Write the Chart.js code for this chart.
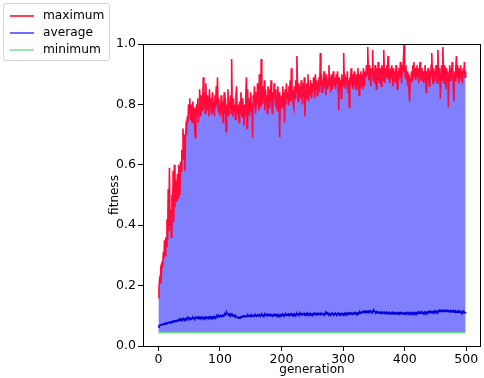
<!DOCTYPE html>
<html>
<head>
<meta charset="utf-8">
<script src="https://cdn.jsdelivr.net/npm/chart.js@4.4.0/dist/chart.umd.min.js"></script>
<style>
html,body{margin:0;padding:0;background:#fff;}
#wrap{position:relative;width:484px;height:378px;}
#legend{position:absolute;left:3px;top:3px;width:105px;height:56px;border:1px solid #d6d6d6;border-radius:3px;background:rgba(255,255,255,0.8);font-family:"DejaVu Sans";font-size:12.2px;color:#000;}
.row{position:absolute;left:0;height:17px;line-height:17px;}
.sw{position:absolute;left:6px;top:7.5px;width:24px;height:0;border-top:2px solid;}
.lab{position:absolute;left:39px;top:0;white-space:nowrap;}
</style>
</head>
<body>
<div id="wrap">
<canvas id="c" width="484" height="378"></canvas>
<div id="legend"></div>
</div>
<script>
const seriesNames = ["maximum", "average", "minimum"];
const xTicks = [0, 100, 200, 300, 400, 500];
const yTicks = [0.0, 0.2, 0.4, 0.6, 0.8, 1.0];

const maximum = [
0.16,0.19,0.22,0.21,0.25,0.24,0.28,0.26,0.31,0.29,
0.35,0.30,0.36,0.33,0.42,0.35,0.52,0.38,0.59,0.40,
0.45,0.36,0.50,0.43,0.58,0.41,0.60,0.46,0.55,0.48,
0.52,0.57,0.49,0.60,0.54,0.50,0.61,0.58,0.65,0.62,
0.72,0.66,0.70,0.58,0.68,0.73,0.72,0.76,0.74,0.80,
0.77,0.82,0.75,0.80,0.78,0.74,0.81,0.76,0.79,0.72,
0.69,0.75,0.80,0.77,0.82,0.74,0.78,0.85,0.80,0.76,
0.83,0.78,0.81,0.89,0.79,0.84,0.77,0.87,0.80,0.83,
0.78,0.81,0.76,0.85,0.79,0.82,0.77,0.80,0.84,0.78,
0.81,0.76,0.83,0.79,0.86,0.80,0.89,0.78,0.82,0.77,
0.80,0.76,0.83,0.78,0.81,0.74,0.79,0.84,0.77,0.82,
0.71,0.80,0.78,0.85,0.76,0.81,0.79,0.83,0.77,0.95,
0.79,0.76,0.82,0.78,0.80,0.75,0.83,0.86,0.77,0.80,
0.78,0.74,0.81,0.77,0.84,0.79,0.76,0.82,0.78,0.73,
0.80,0.77,0.83,0.89,0.72,0.85,0.79,0.82,0.76,0.81,
0.84,0.78,0.80,0.69,0.83,0.79,0.86,0.81,0.77,0.84,
0.80,0.87,0.82,0.78,0.90,0.83,0.79,0.95,0.84,0.80,
0.86,0.82,0.88,0.78,0.85,0.81,0.83,0.77,0.86,0.82,
0.79,0.85,0.81,0.88,0.83,0.77,0.84,0.80,0.87,0.82,
0.85,0.79,0.83,0.78,0.86,0.81,0.84,0.69,0.82,0.80,
0.83,0.79,0.86,0.81,0.84,0.74,0.85,0.80,0.87,0.82,
0.84,0.80,0.86,0.82,0.88,0.81,0.92,0.83,0.85,0.80,
0.79,0.86,0.82,0.88,0.84,0.96,0.85,0.81,0.87,0.83,
0.86,0.82,0.88,0.84,0.80,0.87,0.83,0.89,0.76,0.85,
0.82,0.87,0.84,0.90,0.81,0.86,0.83,0.88,0.85,0.82,
0.87,0.84,0.89,0.86,0.82,0.90,0.85,0.88,0.83,0.87,
0.85,0.89,0.84,0.97,0.86,0.90,0.84,0.88,0.85,0.91,
0.86,0.89,0.83,0.90,0.87,0.85,0.88,0.93,0.86,0.89,
0.84,0.90,0.87,0.85,0.91,0.88,0.86,0.89,0.85,0.90,
0.87,0.91,0.86,0.78,0.89,0.85,0.88,0.82,0.90,0.86,
0.88,0.97,0.86,0.90,0.85,0.89,0.87,0.91,0.84,0.88,
0.79,0.89,0.86,0.92,0.87,0.90,0.85,0.88,0.91,0.86,
0.89,0.85,0.90,0.87,0.92,0.88,0.83,0.90,0.86,0.91,
0.87,0.90,0.85,0.92,0.88,0.86,0.91,0.89,0.93,0.90,
0.99,0.91,0.88,0.93,0.89,0.86,0.92,0.90,0.98,0.88,
0.91,0.87,0.93,0.89,0.85,0.92,0.88,0.94,0.90,0.87,
0.92,0.89,0.86,0.93,0.90,0.88,0.98,0.91,0.87,0.92,
0.89,0.93,0.90,0.96,0.88,0.91,0.87,0.92,0.89,0.93,
0.90,0.86,0.92,0.88,0.91,0.87,0.93,0.89,0.85,0.91,
0.88,0.92,0.89,0.94,0.90,0.87,0.93,0.91,0.95,1.00,
0.92,0.89,0.93,0.88,0.91,0.86,0.90,0.84,0.81,0.89,
0.87,0.91,0.88,0.93,0.90,0.94,0.89,0.92,0.88,0.91,
0.93,0.89,0.92,0.87,0.91,0.94,0.90,0.88,0.92,0.89,
0.91,0.87,0.90,0.93,0.89,0.84,0.91,0.88,0.92,0.90,
0.86,0.91,0.89,0.93,0.97,0.90,0.87,0.92,0.88,0.91,
0.89,0.93,0.90,0.87,0.98,0.91,0.88,0.92,0.82,0.90,
0.93,0.88,0.99,0.91,0.87,0.93,0.89,0.85,0.92,0.88,
0.91,0.79,0.90,0.93,0.88,0.92,0.89,0.94,0.90,0.87,
0.81,0.91,0.88,0.92,0.96,0.89,0.93,0.90,0.87,0.92,
0.89,0.93,0.88,0.91,0.87,0.92,0.90,0.94,0.89,0.91
];

const average = [
.062,.066,.068,.069,.070,.070,.071,.072,.071,.073,
.074,.073,.075,.074,.076,.075,.077,.078,.077,.079,
.078,.080,.079,.081,.080,.082,.081,.083,.082,.084,
.083,.085,.084,.086,.085,.088,.086,.090,.087,.089,
.088,.091,.089,.087,.090,.092,.089,.091,.093,.090,
.092,.090,.093,.091,.089,.092,.094,.091,.093,.090,
.092,.095,.093,.091,.094,.092,.096,.093,.095,.092,
.094,.092,.095,.093,.091,.094,.096,.093,.095,.092,
.094,.096,.093,.095,.097,.094,.096,.093,.095,.097,
.095,.098,.096,.094,.097,.099,.096,.098,.100,.097,
.099,.101,.098,.100,.102,.099,.101,.104,.106,.103,
.108,.111,.107,.105,.103,.106,.102,.104,.101,.103,
.100,.102,.099,.101,.098,.097,.099,.096,.095,.094,
.093,.095,.094,.096,.095,.097,.096,.098,.097,.099,
.098,.100,.099,.097,.100,.102,.099,.101,.100,.098,
.101,.099,.102,.100,.098,.101,.103,.100,.102,.099,
.101,.103,.100,.102,.104,.101,.099,.102,.104,.101,
.103,.100,.102,.105,.102,.100,.103,.101,.104,.102,
.100,.103,.101,.104,.102,.099,.102,.104,.101,.103,
.105,.102,.100,.103,.101,.104,.102,.100,.103,.101,
.104,.102,.105,.103,.101,.104,.102,.106,.103,.101,
.104,.106,.103,.105,.102,.104,.107,.104,.102,.105,
.103,.106,.104,.102,.105,.107,.104,.106,.103,.105,
.108,.105,.103,.106,.104,.107,.105,.103,.106,.104,
.107,.105,.109,.106,.104,.107,.105,.108,.106,.104,
.106,.104,.107,.105,.108,.106,.103,.106,.104,.107,
.105,.108,.106,.104,.107,.105,.108,.106,.104,.107,
.105,.108,.111,.108,.106,.109,.107,.105,.108,.106,
.104,.107,.105,.108,.106,.104,.107,.105,.108,.106,
.104,.107,.109,.106,.104,.107,.105,.108,.106,.104,
.107,.105,.108,.106,.109,.107,.105,.108,.110,.107,
.105,.108,.106,.109,.107,.105,.108,.110,.107,.109,
.111,.108,.106,.109,.107,.110,.108,.112,.109,.111,
.113,.110,.112,.115,.112,.114,.116,.113,.115,.112,
.114,.116,.113,.115,.117,.114,.112,.115,.113,.116,
.118,.115,.113,.111,.114,.112,.110,.113,.111,.109,
.112,.110,.108,.111,.109,.112,.110,.108,.111,.109,
.107,.110,.108,.111,.109,.107,.110,.108,.106,.109,
.107,.110,.108,.106,.109,.107,.110,.108,.106,.109,
.107,.110,.108,.111,.109,.107,.110,.108,.106,.109,
.108,.110,.107,.109,.111,.108,.106,.109,.107,.110,
.108,.111,.109,.107,.110,.108,.111,.109,.107,.110,
.108,.111,.109,.112,.110,.108,.111,.109,.112,.110,
.111,.109,.112,.110,.113,.111,.109,.112,.110,.113,
.111,.114,.112,.110,.113,.111,.114,.112,.115,.113,
.116,.114,.112,.115,.113,.116,.114,.117,.115,.118,
.116,.114,.117,.115,.118,.116,.114,.117,.115,.118,
.116,.114,.117,.115,.113,.116,.114,.117,.115,.113,
.116,.114,.112,.115,.113,.111,.114,.112,.115,.113,
.111,.114,.112,.110,.113,.111,.114,.112,.110,.112
];

const minimum = [
.044,.044,.044,.044,.044,.044,.044,.044,.044,.044,.044,.044,.044,.044,.044,.044,.044,.044,.044,.044,.044,.044,.044,.044,.044,.044,.044,.044,.044,.044,.044,.044,.044,.044,.044,.044,.044,.044,.044,.044,.044,.044,.044,.044,.044,.044,.044,.044,.044,.044,
.044,.044,.044,.044,.044,.044,.044,.044,.044,.044,.044,.044,.044,.044,.044,.044,.044,.044,.044,.044,.044,.044,.044,.044,.044,.044,.044,.044,.044,.044,.044,.044,.044,.044,.044,.044,.044,.044,.044,.044,.044,.044,.044,.044,.044,.044,.044,.044,.044,.044,
.044,.044,.044,.044,.044,.044,.044,.044,.044,.044,.044,.044,.044,.044,.044,.044,.044,.044,.044,.044,.044,.044,.044,.044,.044,.044,.044,.044,.044,.044,.044,.044,.044,.044,.044,.044,.044,.044,.044,.044,.044,.044,.044,.044,.044,.044,.044,.044,.044,.044,
.044,.044,.044,.044,.044,.044,.044,.044,.044,.044,.044,.044,.044,.044,.044,.044,.044,.044,.044,.044,.044,.044,.044,.044,.044,.044,.044,.044,.044,.044,.044,.044,.044,.044,.044,.044,.044,.044,.044,.044,.044,.044,.044,.044,.044,.044,.044,.044,.044,.044,
.044,.044,.044,.044,.044,.044,.044,.044,.044,.044,.044,.044,.044,.044,.044,.044,.044,.044,.044,.044,.044,.044,.044,.044,.044,.044,.044,.044,.044,.044,.044,.044,.044,.044,.044,.044,.044,.044,.044,.044,.044,.044,.044,.044,.044,.044,.044,.044,.044,.044,
.044,.044,.044,.044,.044,.044,.044,.044,.044,.044,.044,.044,.044,.044,.044,.044,.044,.044,.044,.044,.044,.044,.044,.044,.044,.044,.044,.044,.044,.044,.044,.044,.044,.044,.044,.044,.044,.044,.044,.044,.044,.044,.044,.044,.044,.044,.044,.044,.044,.044,
.044,.044,.044,.044,.044,.044,.044,.044,.044,.044,.044,.044,.044,.044,.044,.044,.044,.044,.044,.044,.044,.044,.044,.044,.044,.044,.044,.044,.044,.044,.044,.044,.044,.044,.044,.044,.044,.044,.044,.044,.044,.044,.044,.044,.044,.044,.044,.044,.044,.044,
.044,.044,.044,.044,.044,.044,.044,.044,.044,.044,.044,.044,.044,.044,.044,.044,.044,.044,.044,.044,.044,.044,.044,.044,.044,.044,.044,.044,.044,.044,.044,.044,.044,.044,.044,.044,.044,.044,.044,.044,.044,.044,.044,.044,.044,.044,.044,.044,.044,.044,
.044,.044,.044,.044,.044,.044,.044,.044,.044,.044,.044,.044,.044,.044,.044,.044,.044,.044,.044,.044,.044,.044,.044,.044,.044,.044,.044,.044,.044,.044,.044,.044,.044,.044,.044,.044,.044,.044,.044,.044,.044,.044,.044,.044,.044,.044,.044,.044,.044,.044,
.044,.044,.044,.044,.044,.044,.044,.044,.044,.044,.044,.044,.044,.044,.044,.044,.044,.044,.044,.044,.044,.044,.044,.044,.044,.044,.044,.044,.044,.044,.044,.044,.044,.044,.044,.044,.044,.044,.044,.044,.044,.044,.044,.044,.044,.044,.044,.044,.044,.044
];

const lineColors = ["#ff0a3a", "#0000dd", "#70e090"];
const legendColors = ["#ff4262", "#6f6fff", "#9ae4b0"];
const fillColor = "#8080ff";
const FONT = "DejaVu Sans";

function toPoints(arr) { return arr.map((v, i) => ({ x: i, y: v })); }

// HTML legend (real text)
const legendEl = document.getElementById('legend');
seriesNames.forEach((name, i) => {
  const row = document.createElement('div');
  row.className = 'row';
  row.style.top = (3 + i * 17) + 'px';
  row.style.width = '100%';
  const sw = document.createElement('div');
  sw.className = 'sw';
  sw.style.borderTopColor = legendColors[i];
  const lab = document.createElement('div');
  lab.className = 'lab';
  lab.textContent = name;
  row.appendChild(sw); row.appendChild(lab);
  legendEl.appendChild(row);
});

const frame = {
  id: 'frame',
  afterDraw(chart) {
    const { ctx, chartArea: a } = chart;
    ctx.save();
    ctx.strokeStyle = '#000';
    ctx.lineWidth = 1;
    ctx.strokeRect(Math.round(a.left) + 0.5, Math.round(a.top) + 0.5, Math.round(a.right - a.left) - 1, Math.round(a.bottom - a.top));
    ctx.restore();
  }
};

new Chart(document.getElementById('c'), {
  type: 'line',
  data: {
    datasets: [
      { label: seriesNames[0], data: toPoints(maximum), borderColor: lineColors[0], borderWidth: 1.6,
        backgroundColor: fillColor, fill: { target: 2 }, pointRadius: 0, tension: 0 },
      { label: seriesNames[1], data: toPoints(average), borderColor: lineColors[1], borderWidth: 1.6,
        fill: false, pointRadius: 0, tension: 0 },
      { label: seriesNames[2], data: toPoints(minimum), borderColor: lineColors[2], borderWidth: 1.6,
        fill: false, pointRadius: 0, tension: 0 }
    ]
  },
  options: {
    responsive: false,
    animation: false,
    events: [],
    layout: { padding: { left: 108, top: 44, right: 3, bottom: 0 } },
    plugins: {
      legend: { display: false },
      tooltip: { enabled: false },
      filler: { drawTime: 'beforeDatasetsDraw' }
    },
    scales: {
      x: {
        type: 'linear', min: -24.95, max: 523.95,
        afterBuildTicks(s) { s.ticks = xTicks.map(v => ({ value: v })); },
        afterFit(s) { s.height = 32; },
        ticks: { color: '#000', font: { family: FONT, size: 12.5 }, padding: 1, maxRotation: 0, autoSkip: false },
        grid: { drawOnChartArea: false, drawTicks: true, tickLength: 5, color: '#000', tickWidth: 1 },
        border: { display: false },
        title: { display: true, text: 'generation', color: '#000', font: { family: FONT, size: 12 }, padding: { top: 0, bottom: 1 } }
      },
      y: {
        type: 'linear', min: 0, max: 1,
        afterBuildTicks(s) { s.ticks = yTicks.map(v => ({ value: v })); },
        afterFit(s) { s.width = 35; },
        ticks: { color: '#000', font: { family: FONT, size: 12.5 }, padding: 2, callback: v => v.toFixed(1), autoSkip: false },
        grid: { drawOnChartArea: false, drawTicks: true, tickLength: 5, color: '#000', tickWidth: 1 },
        border: { display: false },
        title: { display: true, text: 'fitness', color: '#000', font: { family: FONT, size: 12 }, padding: { top: 0, bottom: 0 } }
      }
    }
  },
  plugins: [frame]
});
</script>
</body>
</html>
